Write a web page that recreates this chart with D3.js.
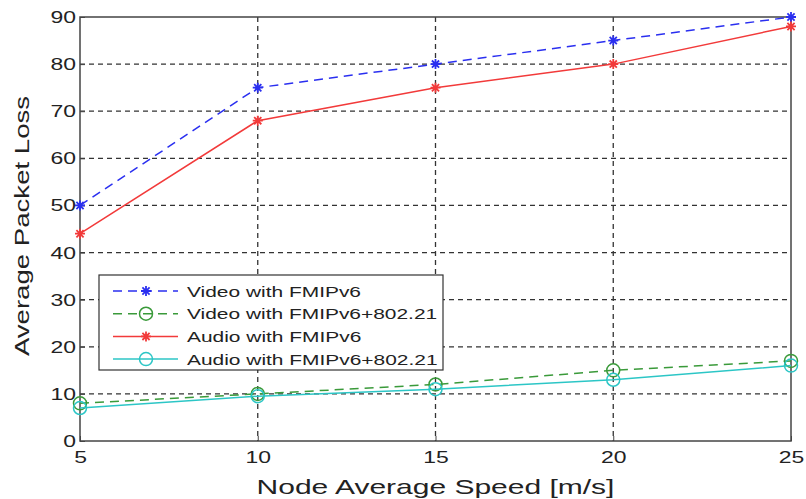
<!DOCTYPE html>
<html>
<head>
<meta charset="utf-8">
<script src="https://cdn.jsdelivr.net/npm/d3@7"></script>
<style>
  body { margin: 0; background: #fff; }
  svg text { font-family: "Liberation Sans", Arial, Helvetica, sans-serif; fill: #222; }
</style>
</head>
<body>
<div id="graphic"></div>
<script>
// data
const speeds = [5, 10, 15, 20, 25];
const videoFmip = [50, 75, 80, 85, 90];
const video80221 = [8, 10, 12, 15, 17];
const audioFmip = [44, 68, 75, 80, 88];
const audio80221 = [7, 9.5, 11, 13, 16];
const yTicks = [0, 10, 20, 30, 40, 50, 60, 70, 80, 90];
const seriesNames = ["Video with FMIPv6", "Video with FMIPv6+802.21", "Audio with FMIPv6", "Audio with FMIPv6+802.21"];

const series = [
  { name: seriesNames[0], values: videoFmip, color: "#2a2ff0", dash: "9,6", marker: "star" },
  { name: seriesNames[1], values: video80221, color: "#3a9a3a", dash: "9,6", marker: "circle" },
  { name: seriesNames[2], values: audioFmip, color: "#f23a3a", dash: null, marker: "star" },
  { name: seriesNames[3], values: audio80221, color: "#2cc6c6", dash: null, marker: "circle" }
];

const outerWidth = 806, outerHeight = 499;
const margin = { left: 80, right: 15, top: 17, bottom: 58 };
const width = outerWidth - margin.left - margin.right;
const height = outerHeight - margin.top - margin.bottom;

const xScale = d3.scaleLinear().domain([5, 25]).range([0, width]);
const yScale = d3.scaleLinear().domain([0, 90]).range([height, 0]);

const svg = d3.select("#graphic").append("svg")
  .attr("width", outerWidth)
  .attr("height", outerHeight);

const plot = svg.append("g")
  .attr("transform", `translate(${margin.left},${margin.top})`);

// grid lines
plot.append("g").selectAll("line.hg")
  .data(yTicks.filter(d => d > 0 && d < 90))
  .enter().append("line")
  .attr("x1", 0).attr("x2", width)
  .attr("y1", d => yScale(d)).attr("y2", d => yScale(d))
  .attr("stroke", "#333").attr("stroke-width", 1.3)
  .attr("stroke-dasharray", "5,4");

plot.append("g").selectAll("line.vg")
  .data(speeds.filter(d => d > 5 && d < 25))
  .enter().append("line")
  .attr("y1", 0).attr("y2", height)
  .attr("x1", d => xScale(d)).attr("x2", d => xScale(d))
  .attr("stroke", "#333").attr("stroke-width", 1.3)
  .attr("stroke-dasharray", "5,4");

// axes
const sxTick = 1.35;
const yAxis = d3.axisLeft(yScale).tickValues(yTicks).tickSize(-5).tickPadding(4);
const xAxis = d3.axisBottom(xScale).tickValues(speeds).tickSize(-5).tickPadding(10);

const gy = plot.append("g").call(yAxis);
const gx = plot.append("g").attr("transform", `translate(0,${height})`).call(xAxis);

[gy, gx].forEach(g => {
  g.select(".domain").remove();
  g.selectAll(".tick line").attr("stroke", "#444");
  g.selectAll("text")
    .style("font-size", "17px")
    .attr("fill", "#222");
});
gy.selectAll("text").each(function() {
  const t = d3.select(this);
  t.attr("x", +t.attr("x") / sxTick).attr("transform", `scale(${sxTick},1)`);
});
gx.selectAll("text").attr("transform", `scale(${sxTick},1)`);

// box
plot.append("rect")
  .attr("width", width).attr("height", height)
  .attr("fill", "none").attr("stroke", "#444").attr("stroke-width", 1.5);

// series
const line = d3.line()
  .x((d, i) => xScale(speeds[i]))
  .y(d => yScale(d));

const starPath = "M-5,0H5M0,-5V5M-3.6,-3.6L3.6,3.6M-3.6,3.6L3.6,-3.6";

function drawMarker(g, type, color) {
  if (type === "star") {
    g.append("path").attr("d", starPath)
      .attr("stroke", color).attr("stroke-width", 1.8).attr("fill", "none");
  } else {
    g.append("circle").attr("r", 6.5)
      .attr("stroke", color).attr("stroke-width", 1.5).attr("fill", "none");
  }
}

series.forEach(s => {
  plot.append("path")
    .datum(s.values)
    .attr("fill", "none")
    .attr("stroke", s.color)
    .attr("stroke-width", 1.5)
    .attr("stroke-dasharray", s.dash)
    .attr("d", line);

  plot.selectAll(null)
    .data(s.values)
    .enter().append("g")
    .attr("transform", (d, i) => `translate(${xScale(speeds[i])},${yScale(d)})`)
    .each(function() { drawMarker(d3.select(this), s.marker, s.color); });
});

// legend
const legend = svg.append("g").attr("transform", "translate(99,275)");
legend.append("rect")
  .attr("width", 344).attr("height", 95)
  .attr("fill", "#fff").attr("stroke", "#333").attr("stroke-width", 1.2);

series.forEach((s, i) => {
  const row = legend.append("g").attr("transform", `translate(0,${16 + i * 22.7})`);
  row.append("line")
    .attr("x1", 14).attr("x2", 79)
    .attr("stroke", s.color).attr("stroke-width", 1.5)
    .attr("stroke-dasharray", s.dash);
  const m = row.append("g").attr("transform", "translate(47,0)");
  drawMarker(m, s.marker, s.color);
  row.append("text")
    .attr("transform", `translate(88,5.5) scale(1.35,1)`)
    .style("font-size", "15.5px")
    .text(s.name);
});

// axis labels
svg.append("text")
  .attr("transform", `translate(${margin.left + width / 2},494) scale(1.5,1)`)
  .attr("text-anchor", "middle")
  .style("font-size", "20px")
  .text("Node Average Speed [m/s]");

svg.append("text")
  .attr("transform", `translate(29,${margin.top + height / 2 - 3}) rotate(-90) scale(1.38,1)`)
  .attr("text-anchor", "middle")
  .style("font-size", "20px")
  .text("Average Packet Loss");
</script>
</body>
</html>
